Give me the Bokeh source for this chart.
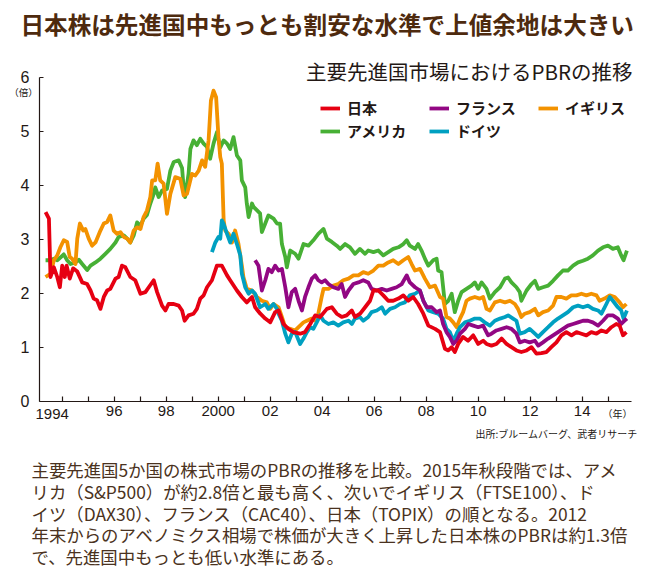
from bokeh.plotting import figure
from bokeh.models import Range1d, FixedTicker, Label, Legend, LegendItem
from bokeh.embed import file_html
from bokeh.resources import INLINE

# ---------------- data (PBR, times) ----------------
jp_t = [1993.36,1993.49,1993.55,1993.68,1993.81,1993.91,1994.00,1994.10,1994.17,1994.29,
        1994.42,1994.58,1994.77,1994.96,1995.09,1995.21,1995.34,1995.47,1995.60,1995.73,
        1995.85,1996.05,1996.17,1996.30,1996.43,1996.62,1996.81,1997.01,1997.20,1997.33,
        1997.52,1997.65,1997.84,1997.97,1998.09,1998.29,1998.48,1998.61,1998.71,1998.86,
        1999.05,1999.18,1999.31,1999.44,1999.57,1999.76,1999.95,2000.14,2000.34,2000.46,
        2000.72,2000.91,2001.10,2001.30,2001.42,2001.62,2001.81,2002.00,2002.19,2002.32,
        2002.51,2002.70,2002.89,2003.15,2003.34,2003.54,2003.73,2003.92,2004.18,2004.37,
        2004.56,2004.75,2004.94,2005.14,2005.26,2005.46,2005.65,2005.84,2005.97,2006.16,
        2006.35,2006.54,2006.73,2006.93,2007.12,2007.31,2007.50,2007.69,2007.89,2008.08,
        2008.34,2008.53,2008.72,2008.85,2008.98,2009.10,2009.23,2009.42,2009.61,2009.81,
        2010.00,2010.19,2010.32,2010.51,2010.70,2010.90,2011.09,2011.28,2011.47,2011.66,
        2011.86,2012.05,2012.24,2012.43,2012.62,2012.81,2013.01,2013.20,2013.39,2013.59,
        2013.78,2013.97,2014.16,2014.35,2014.55,2014.74,2014.93,2015.12,2015.31,2015.44,
        2015.57,2015.70]
jp_v = [3.50,3.38,2.30,2.48,2.30,2.11,2.51,2.30,2.51,2.27,
        2.46,2.40,2.20,2.17,2.05,1.90,1.87,1.71,1.93,2.05,
        2.08,2.27,2.30,2.51,2.48,2.30,2.24,1.99,2.02,2.11,
        2.24,2.02,1.77,1.68,1.80,1.80,1.77,1.68,1.49,1.59,
        1.62,1.71,1.90,1.96,2.11,2.24,2.51,2.51,2.33,2.24,
        2.05,1.93,1.83,1.93,1.74,1.62,1.53,1.46,1.65,1.68,
        1.43,1.34,1.28,1.25,1.28,1.43,1.59,1.56,1.71,1.74,
        1.62,1.56,1.59,1.68,1.56,1.62,1.74,1.86,2.05,2.05,
        1.96,1.86,1.86,1.90,1.96,1.86,1.93,1.80,1.62,1.40,
        1.34,1.28,0.97,0.94,1.00,0.91,1.06,1.19,1.12,1.22,
        1.06,1.12,1.06,1.03,1.06,1.16,1.06,1.00,0.94,0.91,
        0.94,1.00,0.88,0.89,0.91,1.00,1.09,1.22,1.28,1.22,
        1.28,1.25,1.22,1.28,1.25,1.31,1.28,1.37,1.43,1.40,
        1.22,1.28]

us_t = [1993.36,1993.55,1993.68,1993.81,1993.93,1994.06,1994.19,1994.32,1994.51,1994.64,
        1994.77,1994.96,1995.09,1995.28,1995.47,1995.66,1995.85,1996.05,1996.17,1996.37,
        1996.50,1996.62,1996.75,1996.88,1997.01,1997.13,1997.26,1997.39,1997.52,1997.58,
        1997.71,1997.84,1998.03,1998.16,1998.29,1998.48,1998.61,1998.67,1998.73,1998.86,
        1998.93,1999.05,1999.18,1999.31,1999.44,1999.57,1999.69,1999.82,1999.95,2000.08,
        2000.21,2000.34,2000.46,2000.59,2000.72,2000.85,2000.91,2001.04,2001.10,2001.17,
        2001.30,2001.36,2001.61,2001.68,2001.81,2001.93,2002.13,2002.26,2002.38,2002.45,
        2002.58,2002.64,2002.77,2002.96,2003.09,2003.28,2003.47,2003.66,2003.85,2004.05,
        2004.18,2004.37,2004.56,2004.69,2004.88,2005.07,2005.26,2005.45,2005.65,2005.77,
        2005.97,2006.16,2006.35,2006.54,2006.73,2006.93,2007.12,2007.25,2007.37,2007.57,
        2007.69,2007.82,2007.95,2008.08,2008.14,2008.27,2008.40,2008.46,2008.59,2008.72,
        2008.85,2008.98,2009.10,2009.23,2009.36,2009.55,2009.74,2009.87,2010.00,2010.13,
        2010.32,2010.45,2010.64,2010.84,2011.03,2011.15,2011.28,2011.47,2011.60,2011.66,
        2011.86,2012.05,2012.18,2012.31,2012.49,2012.69,2012.88,2013.07,2013.26,2013.45,
        2013.65,2013.84,2014.03,2014.22,2014.41,2014.61,2014.80,2014.99,2015.18,2015.37,
        2015.50,2015.59,2015.72]
us_v = [2.61,2.61,2.64,2.61,2.66,2.72,2.61,2.54,2.57,2.62,
        2.54,2.43,2.51,2.57,2.64,2.73,2.82,2.94,3.04,3.07,
        3.01,2.94,3.07,3.31,3.25,3.38,3.45,3.66,3.84,3.96,
        3.78,3.90,3.93,4.27,4.43,4.46,4.32,3.96,3.78,4.21,
        4.67,4.83,4.74,4.86,4.77,4.71,4.49,4.77,4.98,4.70,
        4.83,4.77,4.67,4.89,4.55,4.46,4.09,3.96,3.66,3.41,
        3.66,3.60,3.48,3.13,3.29,3.44,3.38,3.29,3.29,2.91,
        2.67,2.48,2.79,2.73,2.64,2.91,2.88,2.98,3.10,3.19,
        3.01,2.95,2.88,2.82,2.91,2.85,2.73,2.82,2.73,2.79,
        2.76,2.79,2.70,2.76,2.82,2.85,2.91,2.98,2.88,2.82,
        2.91,2.79,2.64,2.51,2.54,2.61,2.64,2.42,2.39,1.80,
        1.86,1.99,1.65,1.86,2.02,2.08,2.14,2.20,2.08,2.20,
        2.08,1.90,2.02,2.11,2.27,2.29,2.20,2.11,2.02,1.86,
        2.05,2.17,2.23,2.08,2.11,2.14,2.23,2.33,2.42,2.42,
        2.51,2.57,2.60,2.64,2.70,2.79,2.85,2.88,2.82,2.85,
        2.70,2.61,2.79]

uk_t = [1993.36,1993.55,1993.68,1993.81,1993.93,1994.06,1994.19,1994.29,1994.38,1994.51,
        1994.58,1994.68,1994.81,1994.89,1995.02,1995.15,1995.28,1995.47,1995.60,1995.73,
        1995.85,1995.98,1996.11,1996.24,1996.37,1996.50,1996.62,1996.75,1996.88,1997.01,
        1997.13,1997.26,1997.39,1997.46,1997.58,1997.67,1997.77,1997.90,1998.03,1998.16,
        1998.35,1998.54,1998.67,1998.80,1998.99,1999.12,1999.25,1999.38,1999.50,1999.63,
        1999.72,1999.82,1999.92,2000.01,2000.08,2000.14,2000.21,2000.27,2000.40,2000.53,
        2000.65,2000.78,2000.91,2000.97,2001.10,2001.30,2001.49,2001.68,2001.87,2002.00,
        2002.13,2002.32,2002.45,2002.58,2002.77,2002.96,2003.15,2003.28,2003.41,2003.60,
        2003.73,2003.85,2003.98,2004.05,2004.24,2004.43,2004.62,2004.81,2005.01,2005.20,
        2005.39,2005.58,2005.77,2005.97,2006.16,2006.35,2006.54,2006.73,2006.93,2007.12,
        2007.31,2007.44,2007.57,2007.76,2007.95,2008.14,2008.34,2008.53,2008.65,2008.78,
        2008.91,2009.04,2009.17,2009.30,2009.42,2009.55,2009.68,2009.87,2010.06,2010.19,
        2010.32,2010.45,2010.64,2010.84,2011.03,2011.22,2011.41,2011.53,2011.66,2011.79,
        2011.98,2012.18,2012.31,2012.49,2012.69,2012.88,2013.01,2013.20,2013.39,2013.58,
        2013.78,2013.97,2014.16,2014.35,2014.55,2014.67,2014.86,2015.06,2015.25,2015.44,
        2015.57,2015.70]
uk_v = [2.30,2.36,2.61,2.70,2.85,2.98,2.95,2.67,2.64,2.54,
        3.01,3.29,3.16,3.19,3.01,2.88,2.94,3.16,3.29,3.32,
        3.44,3.16,3.10,3.13,3.04,3.01,2.94,3.16,3.22,3.19,
        3.41,3.53,3.78,4.09,4.09,4.40,4.09,4.03,3.47,3.84,
        4.15,4.12,3.81,3.84,4.21,4.18,4.27,4.46,4.34,4.83,
        5.57,5.75,5.63,4.89,4.52,4.40,3.35,3.16,3.10,2.94,
        3.16,2.91,2.51,2.30,2.08,2.05,1.93,1.86,1.83,1.71,
        1.80,1.74,1.56,1.37,1.34,1.31,1.40,1.46,1.49,1.53,
        1.49,1.62,1.93,2.08,2.08,2.14,2.17,2.24,2.27,2.33,
        2.33,2.39,2.36,2.42,2.51,2.51,2.57,2.61,2.54,2.61,
        2.67,2.54,2.42,2.45,2.27,2.11,2.14,1.93,1.90,1.56,
        1.53,1.46,1.37,1.53,1.65,1.86,1.90,1.93,1.90,1.93,
        1.71,1.68,1.83,1.86,1.83,1.86,1.80,1.71,1.56,1.62,
        1.65,1.71,1.59,1.65,1.68,1.77,1.93,1.93,1.90,1.96,
        1.96,1.99,1.96,1.99,1.96,1.86,1.90,1.96,1.93,1.83,
        1.74,1.80]

fr_t = [2001.42,2001.55,2001.68,2001.81,2001.93,2002.06,2002.19,2002.32,2002.45,2002.58,
        2002.70,2002.83,2002.96,2003.09,2003.22,2003.34,2003.47,2003.60,2003.73,2003.85,
        2003.98,2004.11,2004.24,2004.43,2004.62,2004.75,2004.88,2005.01,2005.20,2005.39,
        2005.58,2005.77,2005.90,2006.10,2006.29,2006.48,2006.67,2006.86,2007.06,2007.25,
        2007.37,2007.57,2007.76,2007.89,2008.02,2008.21,2008.40,2008.53,2008.65,2008.78,
        2008.91,2009.04,2009.17,2009.30,2009.49,2009.62,2009.81,2010.00,2010.19,2010.38,
        2010.51,2010.70,2010.90,2011.09,2011.28,2011.47,2011.60,2011.79,2011.98,2012.18,
        2012.31,2012.49,2012.69,2012.88,2013.07,2013.26,2013.45,2013.65,2013.84,2014.03,
        2014.22,2014.41,2014.61,2014.80,2014.99,2015.18,2015.37,2015.50,2015.63,2015.72]
fr_v = [2.61,2.51,2.05,2.24,2.45,2.39,2.51,2.42,2.45,2.11,
        1.74,2.02,2.08,1.86,1.68,1.93,2.11,2.27,2.33,2.24,
        2.20,2.24,2.17,2.11,2.08,2.17,1.93,2.05,2.17,2.20,
        2.24,2.20,2.08,2.05,2.08,2.05,2.08,2.11,2.17,2.33,
        2.20,2.11,2.05,1.86,1.74,1.74,1.65,1.68,1.43,1.28,
        1.19,1.06,1.12,1.25,1.34,1.43,1.40,1.37,1.40,1.22,
        1.25,1.31,1.34,1.37,1.34,1.25,1.09,1.12,1.09,1.12,
        1.03,1.09,1.16,1.22,1.28,1.34,1.40,1.43,1.46,1.49,
        1.49,1.46,1.40,1.49,1.59,1.59,1.53,1.43,1.49,1.53]

de_t = [1999.76,1999.89,2000.01,2000.08,2000.14,2000.21,2000.34,2000.46,2000.59,2000.72,
        2000.85,2000.91,2001.04,2001.17,2001.30,2001.42,2001.61,2001.81,2001.93,2002.13,
        2002.26,2002.32,2002.45,2002.58,2002.70,2002.83,2002.96,2003.15,2003.28,2003.41,
        2003.54,2003.66,2003.79,2003.92,2004.05,2004.24,2004.43,2004.62,2004.81,2005.01,
        2005.14,2005.26,2005.45,2005.58,2005.77,2005.90,2006.10,2006.29,2006.42,2006.61,
        2006.80,2006.99,2007.18,2007.37,2007.57,2007.76,2007.89,2008.08,2008.27,2008.46,
        2008.65,2008.78,2008.91,2009.04,2009.17,2009.30,2009.49,2009.68,2009.87,2010.06,
        2010.25,2010.45,2010.64,2010.84,2011.03,2011.15,2011.34,2011.47,2011.60,2011.79,
        2011.98,2012.18,2012.31,2012.49,2012.69,2012.88,2013.07,2013.26,2013.45,2013.65,
        2013.84,2014.03,2014.22,2014.41,2014.61,2014.74,2014.93,2015.06,2015.18,2015.37,
        2015.50,2015.59,2015.72]
de_v = [2.76,2.94,3.04,3.01,3.35,3.28,3.10,2.94,3.10,2.91,
        2.70,2.36,2.11,1.99,2.05,1.99,1.74,1.80,1.71,1.80,
        1.71,1.62,1.49,1.25,1.09,1.25,1.28,1.06,1.16,1.28,
        1.37,1.34,1.46,1.59,1.49,1.43,1.46,1.40,1.46,1.49,
        1.43,1.53,1.56,1.49,1.56,1.65,1.68,1.74,1.62,1.71,
        1.74,1.80,1.83,1.96,1.99,2.05,1.86,1.68,1.65,1.62,
        1.53,1.34,1.28,1.12,1.25,1.37,1.46,1.49,1.53,1.53,
        1.46,1.40,1.49,1.53,1.56,1.59,1.53,1.49,1.25,1.28,
        1.34,1.25,1.19,1.28,1.37,1.46,1.53,1.59,1.65,1.74,
        1.77,1.74,1.77,1.71,1.68,1.62,1.80,1.93,1.86,1.74,
        1.68,1.53,1.68]

# ---------------- labels ----------------
tick_years = list(range(1994, 2016))
label_years = [1994, 1996, 1998, 2000, 2002, 2004, 2006, 2008, 2010, 2012, 2014]
label_texts = ["1994", "96", "98", "2000", "02", "04", "06", "08", "10", "12", "14"]
y_ticks = [0, 1, 2, 3, 4, 5, 6]

title_text = "日本株は先進国中もっとも割安な水準で上値余地は大きい"
subtitle_text = "主要先進国市場におけるPBRの推移"
source_text = "出所:ブルームバーグ、武者リサーチ"
body_lines = [
    "主要先進国5か国の株式市場のPBRの推移を比較。2015年秋段階では、アメ",
    "リカ（S&P500）が約2.8倍と最も高く、次いでイギリス（FTSE100）、ド",
    "イツ（DAX30）、フランス（CAC40）、日本（TOPIX）の順となる。2012",
    "年末からのアベノミクス相場で株価が大きく上昇した日本株のPBRは約1.3倍",
    "で、先進国中もっとも低い水準にある。",
]

# ---------------- layout / styles ----------------
W, H = 642, 570            # canvas; the plot frame fills all of it
PX_PER_YEAR = 26.0
PX_PER_UNIT = 54.0
X_1994 = 61.7              # pixel position of the 1994 tick
Y_ZERO = 400.7             # pixel position of PBR 0
X_AXIS_LEFT, X_AXIS_RIGHT = 39.0, 631.0

C_JP, C_FR, C_UK, C_US, C_DE = "#e60012", "#920783", "#f39200", "#47b035", "#00a0c1"
DARK = "#231815"
BROWN = "#4e2a0e"
BODY = "#4a3220"
JP_FONT = "Noto Sans CJK JP"
NUM_FONT = "Liberation Sans"


def dx(px):   # canvas pixel -> data x
    return 1994 + (px - X_1994) / PX_PER_YEAR


def dy(py):   # canvas pixel -> data y
    return (Y_ZERO - py) / PX_PER_UNIT


p = figure(width=W, height=H, output_backend="svg", toolbar_location=None,
           x_range=Range1d(dx(0), dx(W)), y_range=Range1d(dy(H), dy(0)),
           min_border=0, min_border_left=0, min_border_right=0,
           min_border_top=0, min_border_bottom=0)
p.title.visible = False
p.outline_line_color = None
p.xgrid.visible = False
p.ygrid.visible = False
p.background_fill_color = "white"
p.border_fill_color = "white"

xa = p.xaxis[0]
xa.fixed_location = 0
xa.bounds = (dx(X_AXIS_LEFT), dx(X_AXIS_RIGHT))
xa.ticker = FixedTicker(ticks=tick_years)
overrides = {y: "" for y in tick_years}
for yr, t in zip(label_years, label_texts):
    if yr != 1994:
        overrides[yr] = t
xa.major_label_overrides = overrides
xa.major_tick_in = 5
xa.major_tick_out = 0
xa.minor_tick_line_color = None
xa.axis_line_color = DARK
xa.axis_line_width = 1.2
xa.major_tick_line_color = DARK
xa.major_tick_line_width = 1.2
xa.major_label_standoff = 5
xa.major_label_text_font = NUM_FONT
xa.major_label_text_font_size = "15px"
xa.major_label_text_color = DARK

ya = p.yaxis[0]
ya.fixed_location = dx(X_AXIS_LEFT)
ya.bounds = (0, 6)
ya.ticker = FixedTicker(ticks=y_ticks)
ya.major_tick_in = 4
ya.major_tick_out = 0
ya.minor_tick_line_color = None
ya.axis_line_color = DARK
ya.axis_line_width = 1.2
ya.major_tick_line_color = DARK
ya.major_tick_line_width = 1.2
ya.major_label_standoff = 10
ya.major_label_text_font = NUM_FONT
ya.major_label_text_font_size = "16px"
ya.major_label_text_color = DARK

lw = 3.8
r_us = p.line(us_t, us_v, line_color=C_US, line_width=lw, line_join="round")
r_uk = p.line(uk_t, uk_v, line_color=C_UK, line_width=lw, line_join="round")
r_de = p.line(de_t, de_v, line_color=C_DE, line_width=lw, line_join="round")
r_fr = p.line(fr_t, fr_v, line_color=C_FR, line_width=lw, line_join="round")
r_jp = p.line(jp_t, jp_v, line_color=C_JP, line_width=lw, line_join="round")


def make_legend(items, loc):
    return Legend(items=items, location=loc, orientation="horizontal",
                  glyph_width=20, glyph_height=20, label_standoff=7, label_width=81,
                  label_height=20, spacing=1, padding=0, margin=0,
                  border_line_color=None, background_fill_alpha=0,
                  label_text_font=JP_FONT, label_text_font_size="15px",
                  label_text_font_style="bold", label_text_color=DARK)


# legend rows: (left px, bottom px measured up from canvas bottom)
p.add_layout(make_legend([LegendItem(label="日本", renderers=[r_jp]),
                          LegendItem(label="フランス", renderers=[r_fr]),
                          LegendItem(label="イギリス", renderers=[r_uk])], (320, H - 118)))
p.add_layout(make_legend([LegendItem(label="アメリカ", renderers=[r_us]),
                          LegendItem(label="ドイツ", renderers=[r_de])], (320, H - 141)))


def tlabel(px, py, text, size, color=DARK, font=JP_FONT, align="left", style="normal"):
    p.add_layout(Label(x=dx(px), y=dy(py), text=text,
                       text_font=font, text_font_size=size, text_color=color,
                       text_align=align, text_baseline="middle", text_font_style=style))


tlabel(20, 23, title_text, "23.6px", color=BROWN, style="bold")
tlabel(632, 70, subtitle_text, "20.5px", align="right")
tlabel(23, 91, "（倍）", "9.5px", align="center")
tlabel(617, 413, "（年）", "10px", align="center")
tlabel(637, 433, source_text, "10px", align="right")
for i, line in enumerate(body_lines):
    tlabel(31, 469 + 21.8 * i, line, "17.4px", color=BODY)

# first tick label sits a little left of its tick
p.add_layout(Label(x=label_years[0], y=dy(413.5), x_offset=-10, text=label_texts[0],
                   text_font=NUM_FONT, text_font_size="15px", text_color=DARK,
                   text_align="center", text_baseline="middle"))

open("out.html", "w").write(file_html(p, INLINE, "PBR"))
